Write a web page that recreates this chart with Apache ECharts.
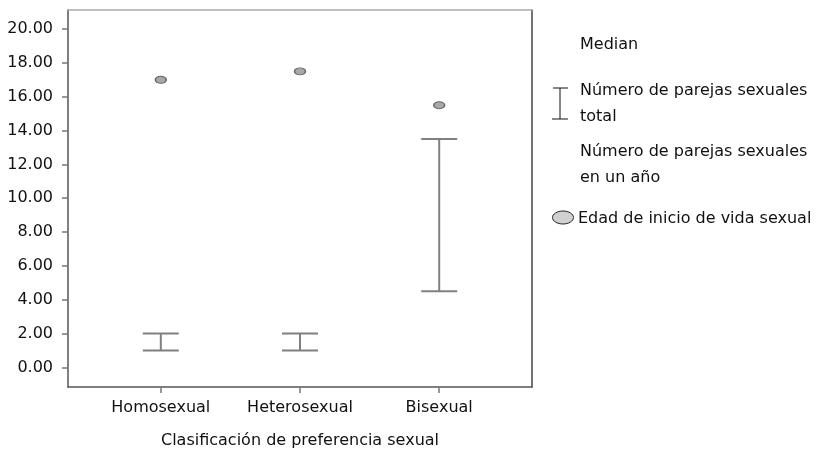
<!DOCTYPE html>
<html>
<head>
<meta charset="utf-8">
<script src="https://cdn.jsdelivr.net/npm/echarts@6/dist/echarts.min.js"></script>
<style>html,body{margin:0;padding:0;background:#fff}#c{width:822px;height:454px}</style>
</head>
<body>
<div id="c"></div>
<script>
var categories = ['Homosexual', 'Heterosexual', 'Bisexual'];
var edadMedian = [17.0, 17.5, 15.5];
var parejasLow = [1.0, 1.0, 4.5];
var parejasHigh = [2.0, 2.0, 13.5];
var yTicks = [0, 2, 4, 6, 8, 10, 12, 14, 16, 18, 20];
var legendLabels = ['Median', 'Número de parejas sexuales', 'total', 'Número de parejas sexuales', 'en un año', 'Edad de inicio de vida sexual'];

var FONT = 'DejaVu Sans';
var chart = echarts.init(document.getElementById('c'), null, {renderer: 'canvas'});

var catIdx = categories.map(function (c, i) { return i; });
var errData = catIdx.map(function (i) { return [i, parejasLow[i], parejasHigh[i]]; });
var medData = catIdx.map(function (i) { return [i, edadMedian[i]]; });

var legendY = [45, 91, 117, 152, 177.5, 218.5];

var option = {
  animation: false,
  backgroundColor: '#fff',
  grid: {left: 68, top: 10, width: 464, height: 379, containLabel: false},
  xAxis: [{
    type: 'value', min: -2/3, max: 8/3, position: 'bottom',
    axisLine: {show: true, onZero: false, lineStyle: {color: '#555', width: 1.5}},
    axisTick: {show: true, length: 6, lineStyle: {color: '#777', width: 1.5}, customValues: catIdx},
    axisLabel: {show: true, customValues: catIdx, margin: 13, color: '#111', fontFamily: FONT, fontSize: 16,
      formatter: function (v) { return categories[Math.round(v)] || ''; }},
    splitLine: {show: false},
    name: 'Clasificación de preferencia sexual', nameLocation: 'middle', nameGap: 46,
    nameTextStyle: {color: '#111', fontFamily: FONT, fontSize: 16}
  }, {
    type: 'value', min: -2/3, max: 8/3, position: 'top',
    axisLine: {show: true, onZero: false, lineStyle: {color: '#aaa', width: 1.5}},
    axisTick: {show: false}, axisLabel: {show: false}, splitLine: {show: false}
  }],
  yAxis: [{
    type: 'value', min: -1.16, max: 21.13, position: 'left',
    axisLine: {show: true, onZero: false, lineStyle: {color: '#555', width: 1.5}},
    axisTick: {show: true, length: 6, lineStyle: {color: '#777', width: 1.5}, customValues: yTicks},
    axisLabel: {show: true, customValues: yTicks, margin: 15, color: '#111', fontFamily: FONT, fontSize: 16,
      formatter: function (v) { return v.toFixed(2); }},
    splitLine: {show: false}
  }, {
    type: 'value', min: -1.16, max: 21.13, position: 'right',
    axisLine: {show: true, onZero: false, lineStyle: {color: '#444', width: 1.5}},
    axisTick: {show: false}, axisLabel: {show: false}, splitLine: {show: false}
  }],
  series: [{
    name: 'Número de parejas sexuales total',
    type: 'custom',
    data: errData,
    renderItem: function (params, api) {
      var x = api.value(0);
      var lo = api.coord([x, api.value(1)]);
      var hi = api.coord([x, api.value(2)]);
      var hw = 18;
      var st = {stroke: '#808080', lineWidth: 2};
      return {type: 'group', children: [
        {type: 'line', shape: {x1: lo[0], y1: lo[1], x2: hi[0], y2: hi[1]}, style: st},
        {type: 'line', shape: {x1: lo[0] - hw, y1: lo[1], x2: lo[0] + hw, y2: lo[1]}, style: st},
        {type: 'line', shape: {x1: hi[0] - hw, y1: hi[1], x2: hi[0] + hw, y2: hi[1]}, style: st}
      ]};
    },
    z: 3
  }, {
    name: 'Edad de inicio de vida sexual',
    type: 'scatter',
    data: medData,
    symbol: 'circle',
    symbolSize: [11, 7],
    itemStyle: {color: '#a8a8a8', borderColor: '#666', borderWidth: 1.2, opacity: 1},
    z: 4
  }],
  graphic: [
    {type: 'text', left: 580, top: legendY[0] - 8, style: {text: legendLabels[0], fontFamily: FONT, fontSize: 16, fill: '#111'}},
    {type: 'text', left: 580, top: legendY[1] - 8, style: {text: legendLabels[1], fontFamily: FONT, fontSize: 16, fill: '#111'}},
    {type: 'text', left: 580, top: legendY[2] - 8, style: {text: legendLabels[2], fontFamily: FONT, fontSize: 16, fill: '#111'}},
    {type: 'text', left: 580, top: legendY[3] - 8, style: {text: legendLabels[3], fontFamily: FONT, fontSize: 16, fill: '#111'}},
    {type: 'text', left: 580, top: legendY[4] - 8, style: {text: legendLabels[4], fontFamily: FONT, fontSize: 16, fill: '#111'}},
    {type: 'text', left: 578, top: legendY[5] - 8, style: {text: legendLabels[5], fontFamily: FONT, fontSize: 16, fill: '#111'}},
    {type: 'line', shape: {x1: 560, y1: 88, x2: 560, y2: 119}, style: {stroke: '#111', lineWidth: 1}},
    {type: 'line', shape: {x1: 553, y1: 88, x2: 568, y2: 88}, style: {stroke: '#111', lineWidth: 1}},
    {type: 'line', shape: {x1: 552, y1: 119, x2: 568, y2: 119}, style: {stroke: '#111', lineWidth: 1}},
    {type: 'ellipse', shape: {cx: 563, cy: 217.5, rx: 10.5, ry: 6.5}, style: {fill: '#d0d0d0', stroke: '#222', lineWidth: 1}}
  ]
};
chart.setOption(option);
</script>
</body>
</html>
